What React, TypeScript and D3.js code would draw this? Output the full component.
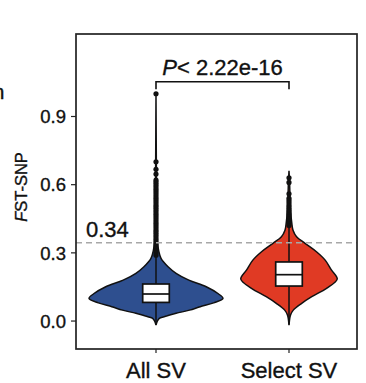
import React from "react";
import * as d3 from "d3";

const groups = ["All SV", "Select SV"];
const fills = ["#2E4F8F", "#E03A24"];

// violin outlines: [value, relative density]
const allSvDensity = [
  [-0.018, 0], [0.0, 0.02], [0.012, 0.05], [0.019, 0.12], [0.034, 0.3],
  [0.048, 0.5], [0.063, 0.66], [0.08, 0.86], [0.1, 1.0], [0.12, 0.93],
  [0.151, 0.75], [0.18, 0.49], [0.21, 0.3], [0.239, 0.18], [0.276, 0.075],
  [0.31, 0.04], [0.35, 0.02], [0.5, 0.01], [0.7, 0.005], [1.0, 0],
];
const selectSvDensity = [
  [-0.018, 0], [0.01, 0.01], [0.026, 0.022], [0.048, 0.064], [0.078, 0.19],
  [0.107, 0.34], [0.144, 0.56], [0.185, 0.72], [0.224, 0.635], [0.268, 0.54],
  [0.305, 0.41], [0.342, 0.24], [0.371, 0.113], [0.4, 0.06], [0.423, 0.045],
  [0.5, 0.02], [0.6, 0.01], [0.661, 0],
];

// box stats: [lower whisker, q1, median, q3, upper whisker]
const boxStats = [
  [-0.015, 0.082, 0.119, 0.163, 0.284],
  [-0.015, 0.154, 0.204, 0.26, 0.42],
];

const allSvOutliers = [
  0.29, 0.3, 0.31, 0.32, 0.33, 0.34, 0.35, 0.36, 0.37, 0.38, 0.39, 0.4, 0.41,
  0.42, 0.43, 0.44, 0.45, 0.46, 0.47, 0.48, 0.49, 0.5, 0.51, 0.52, 0.53, 0.54,
  0.55, 0.56, 0.57, 0.58, 0.59, 0.6, 0.61, 0.62, 0.647, 0.668, 0.701, 1.0,
];
const selectSvOutliers = [
  0.42, 0.43, 0.44, 0.45, 0.46, 0.47, 0.48, 0.49, 0.5, 0.51, 0.52, 0.53, 0.54,
  0.56, 0.61, 0.63,
];

const yTicks = [0.0, 0.3, 0.6, 0.9];
const threshold = 0.344;
const thresholdLabel = "0.34";
const pLabel = "< 2.22e-16";
const bracketY = 1.053;
const bracketLeg = 1.02;

export default function App() {
  const width = 366;
  const height = 383;
  const panel = { left: 76, right: 357, top: 34, bottom: 349 };
  const font = "'Liberation Sans', Arial, sans-serif";
  const ink = "#111";
  // slightly heavier glyphs, like the scanned figure
  const textStroke = { stroke: ink, strokeWidth: 0.35 };

  const y = d3.scaleLinear().domain([-0.123, 1.263]).range([panel.bottom, panel.top]);
  const x = d3.scalePoint().domain(groups).range([156, 289]);
  const w = d3.scaleLinear().domain([0, 1]).range([0, 67]);
  const boxHalf = 13.3;

  const densities = [allSvDensity, selectSvDensity];
  const outliers = [allSvOutliers, selectSvOutliers];

  const violin = (cx: number) =>
    d3
      .area<number[]>()
      .y((d) => y(d[0]))
      .x0((d) => cx - w(d[1]))
      .x1((d) => cx + w(d[1]))
      .curve(d3.curveCatmullRom);

  return (
    <svg
      width={width}
      height={height}
      style={{ position: "absolute", left: 0, top: 0, fontFamily: font }}
    >
      <rect width={width} height={height} fill="white" />
      <text x={4.5} y={99} fontSize={21} textAnchor="end" fill={ink} {...textStroke}>n</text>

      {groups.map((g, i) => {
        const cx = x(g)!;
        const [lo, q1, med, q3, hi] = boxStats[i];
        return (
          <g key={g}>
            <path
              d={violin(cx)(densities[i]) || ""}
              fill={fills[i]}
              stroke={ink}
              strokeWidth={1.5}
            />
            <line x1={cx} x2={cx} y1={y(lo)} y2={y(q1)} stroke={ink} strokeWidth={1.5} />
            <line x1={cx} x2={cx} y1={y(q3)} y2={y(hi)} stroke={ink} strokeWidth={1.5} />
            <rect
              x={cx - boxHalf}
              width={boxHalf * 2}
              y={y(q3)}
              height={y(q1) - y(q3)}
              fill="white"
              stroke={ink}
              strokeWidth={1.7}
            />
            <line x1={cx - boxHalf} x2={cx + boxHalf} y1={y(med)} y2={y(med)} stroke={ink} strokeWidth={1.7} />
            {outliers[i].map((v, j) => (
              <circle key={j} cx={cx} cy={y(v)} r={2.6} fill={ink} />
            ))}
          </g>
        );
      })}

      <line
        x1={panel.left}
        x2={panel.right}
        y1={y(threshold)}
        y2={y(threshold)}
        stroke="#A8A8A8"
        strokeWidth={1.5}
        strokeDasharray="6,4"
      />
      <text x={86} y={y(threshold) - 6} fontSize={22} fill={ink} {...textStroke}>{thresholdLabel}</text>

      <path
        d={`M${x(groups[0])},${y(bracketLeg)}V${y(bracketY)}H${x(groups[1])}V${y(bracketLeg)}`}
        fill="none"
        stroke={ink}
        strokeWidth={1.6}
      />
      <text
        x={(x(groups[0])! + x(groups[1])!) / 2}
        y={75}
        fontSize={22}
        textAnchor="middle"
        fill={ink}
        {...textStroke}
      >
        <tspan fontStyle="italic">P</tspan>
        {pLabel}
      </text>

      <rect
        x={panel.left}
        y={panel.top}
        width={panel.right - panel.left}
        height={panel.bottom - panel.top}
        fill="none"
        stroke="#222"
        strokeWidth={1.7}
      />

      {yTicks.map((t) => (
        <g key={t}>
          <line x1={panel.left - 5} x2={panel.left} y1={y(t)} y2={y(t)} stroke="#222" strokeWidth={1.2} />
          <text x={66} y={y(t)} dy="0.36em" fontSize={18.5} textAnchor="end" fill={ink} {...textStroke}>
            {t.toFixed(1)}
          </text>
        </g>
      ))}

      {groups.map((g) => (
        <g key={g}>
          <line x1={x(g)} x2={x(g)} y1={panel.bottom} y2={panel.bottom + 4} stroke="#222" strokeWidth={1.2} />
          <text x={x(g)} y={378} fontSize={22} textAnchor="middle" fill={ink} {...textStroke}>{g}</text>
        </g>
      ))}

      <text
        transform={`translate(27,187) rotate(-90)`}
        fontSize={16.5}
        textAnchor="middle"
        fill={ink}
        {...textStroke}
      >
        <tspan fontStyle="italic">F</tspan>ST-SNP
      </text>
    </svg>
  );
}
